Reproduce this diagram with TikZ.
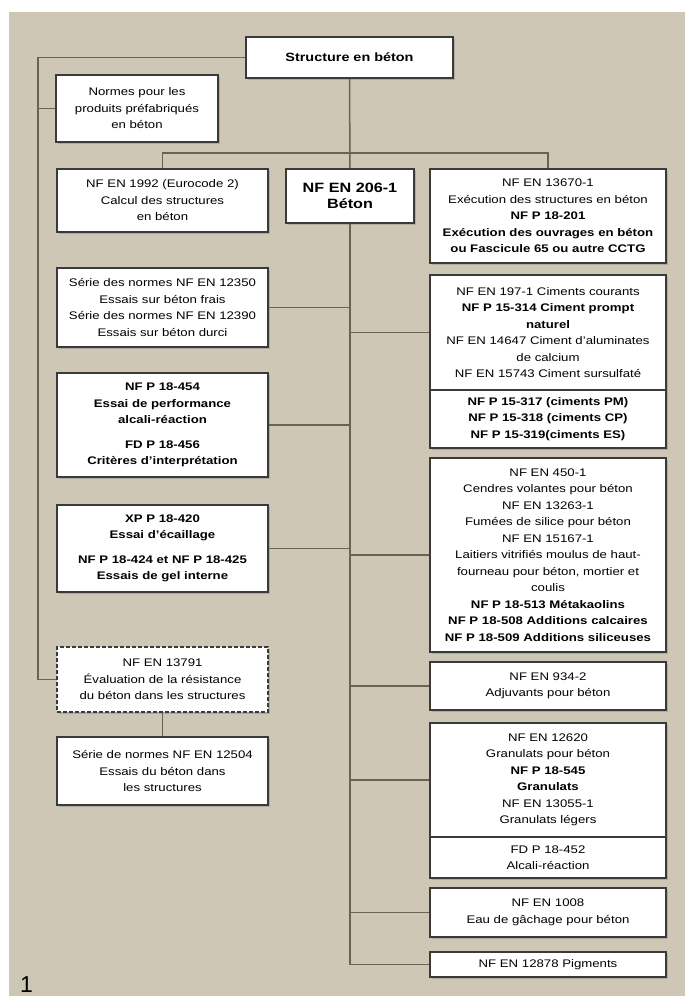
\documentclass[tikz,border=0pt]{standalone}
\usepackage{fontspec}
\setmainfont[FakeStretch=1.2]{Liberation Sans}
\newfontfamily\plainsans{Liberation Sans}
\usetikzlibrary{shadows}
\definecolor{bg}{RGB}{207,199,181}
\definecolor{ln}{RGB}{105,99,84}
\definecolor{bd}{RGB}{58,58,58}
\begin{document}
\begin{tikzpicture}[x=1pt,y=-1pt,
  nbox/.style={draw=bd, line width=1.8pt, fill=white,
    drop shadow={shadow xshift=1.5pt, shadow yshift=-1.5pt, opacity=0.4},
    align=center, inner sep=1pt, font=\fontsize{11}{16.5}\selectfont},
  dbox/.style={nbox, dash pattern=on 4pt off 2pt},
  conn/.style={draw=ln, line width=1.5pt},
]
\useasboundingbox (0,0) rectangle (685,996);
\fill[white] (0,0) rectangle (685,996);
\fill[bg] (9,12) rectangle (685,996);

\node[nbox, minimum width=207pt, minimum height=41pt, font=\fontsize{12}{15}\selectfont\bfseries] (top) at (349.5,57.5) {Structure en béton};
\node[nbox, minimum width=162pt, minimum height=67pt] (normes) at (137,108.5) {Normes pour les\\produits préfabriqués\\en béton};
\node[nbox, minimum width=211pt, minimum height=63pt] (b1992) at (162.5,200.5) {NF EN 1992 (Eurocode 2)\\Calcul des structures\\en béton};
\node[nbox, minimum width=128pt, minimum height=54pt, font=\fontsize{13.5}{16.5}\selectfont\bfseries] (b206) at (350,196) {NF EN 206-1\\Béton};
\node[nbox, minimum width=236pt, minimum height=94pt] (b13670) at (548,216) {NF EN 13670-1\\Exécution des structures en béton\\\textbf{NF P 18-201}\\\textbf{Exécution des ouvrages en béton}\\\textbf{ou Fascicule 65 ou autre CCTG}};
\node[nbox, minimum width=211pt, minimum height=79pt] (serie) at (162.5,307.5) {Série des normes NF EN 12350\\Essais sur béton frais\\Série des normes NF EN 12390\\Essais sur béton durci};
\node[nbox, minimum width=236pt, minimum height=115pt] (c197a) at (548,332.5) {NF EN 197-1 Ciments courants\\\textbf{NF P 15-314 Ciment prompt}\\\textbf{naturel}\\NF EN 14647 Ciment d'aluminates\\de calcium\\NF EN 15743 Ciment sursulfaté};
\node[nbox, minimum width=236pt, minimum height=58pt, font=\fontsize{11}{16.5}\selectfont\bfseries] (c197b) at (548,419) {NF P 15-317 (ciments PM)\\NF P 15-318 (ciments CP)\\NF P 15-319(ciments ES)};
\node[nbox, minimum width=211pt, minimum height=104pt, font=\fontsize{11}{16.5}\selectfont\bfseries] (b18454) at (162.5,425) {NF P 18-454\\Essai de performance\\alcali-réaction\\[8pt]FD P 18-456\\Critères d'interprétation};
\node[nbox, minimum width=236pt, minimum height=194pt] (b450) at (548,555) {NF EN 450-1\\Cendres volantes pour béton\\NF EN 13263-1\\Fumées de silice pour béton\\NF EN 15167-1\\Laitiers vitrifiés moulus de haut-\\fourneau pour béton, mortier et\\coulis\\\textbf{NF P 18-513 Métakaolins}\\\textbf{NF P 18-508 Additions calcaires}\\\textbf{NF P 18-509 Additions siliceuses}};
\node[nbox, minimum width=211pt, minimum height=87pt, font=\fontsize{11}{16.5}\selectfont\bfseries] (xp) at (162.5,548.5) {XP P 18-420\\Essai d'écaillage\\[8pt]NF P 18-424 et NF P 18-425\\Essais de gel interne};
\node[dbox, minimum width=211pt, minimum height=65pt] (b13791) at (162.5,679.5) {NF EN 13791\\Évaluation de la résistance\\du béton dans les structures};
\node[nbox, minimum width=211pt, minimum height=68pt] (b12504) at (162.5,771) {Série de normes NF EN 12504\\Essais du béton dans\\les structures};
\node[nbox, minimum width=236pt, minimum height=48pt] (b934) at (548,686) {NF EN 934-2\\Adjuvants pour béton};
\node[nbox, minimum width=236pt, minimum height=114pt] (gra) at (548,780) {NF EN 12620\\Granulats pour béton\\\textbf{NF P 18-545}\\\textbf{Granulats}\\NF EN 13055-1\\Granulats légers};
\node[nbox, minimum width=236pt, minimum height=41pt] (grb) at (548,857.5) {FD P 18-452\\Alcali-réaction};
\node[nbox, minimum width=236pt, minimum height=49pt] (b1008) at (548,912.5) {NF EN 1008\\Eau de gâchage pour béton};
\node[nbox, minimum width=236pt, minimum height=25pt] (pig) at (548,964.5) {NF EN 12878 Pigments};

\node[anchor=base west, inner sep=0pt, font=\plainsans\fontsize{23}{23}\selectfont] (fig) at (20,992) {1};

\coordinate (L) at (38,0);
\coordinate (bar) at (349,153);
\draw[conn] (top.west) -- (top.west -| L) -- (b13791.west -| L) -- (b13791.west);
\draw[conn] (normes.west -| L) -- (normes.west);
\draw[conn] (top.south) -- (b206.north);
\draw[conn] (b1992.north) |- (bar) -| (b13670.north);
\draw[conn] (b206.south) |- (pig.west);
\draw[conn] (serie.east) -- (serie.east -| b206.south);
\draw[conn] (b18454.east) -- (b18454.east -| b206.south);
\draw[conn] (xp.east) -- (xp.east -| b206.south);
\draw[conn] (c197a.west) -- (c197a.west -| b206.south);
\draw[conn] (b450.west) -- (b450.west -| b206.south);
\draw[conn] (b934.west) -- (b934.west -| b206.south);
\draw[conn] (gra.west) -- (gra.west -| b206.south);
\draw[conn] (b1008.west) -- (b1008.west -| b206.south);
\draw[conn] (b13791.south) -- (b12504.north);
\end{tikzpicture}
\end{document}
